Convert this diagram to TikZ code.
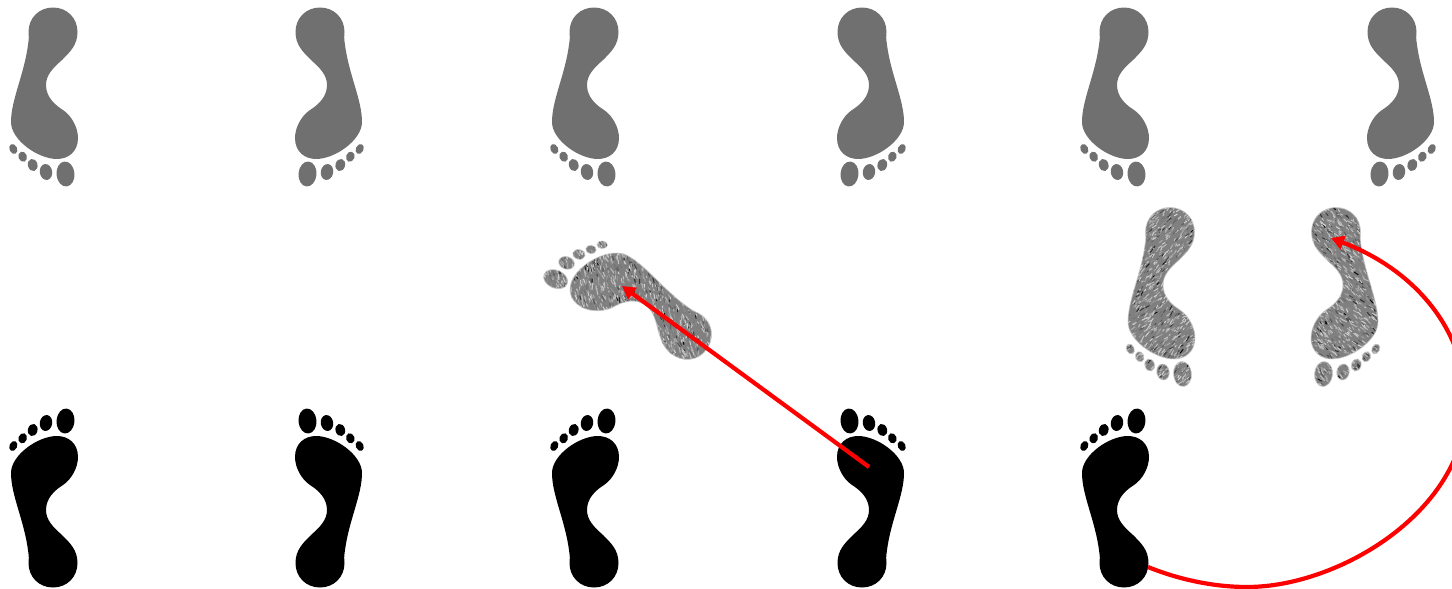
\documentclass[tikz,border=0pt]{standalone}
\usetikzlibrary{arrows.meta}
\definecolor{footgray}{HTML}{707070}
\definecolor{arrowred}{HTML}{FF0000}
\newcommand{\footshape}{%
  (53,7.5) .. controls (67,7.5) and (77.5,18) .. (77.5,32)
  .. controls (77.5,45) and (70,52) .. (62,60)
  .. controls (53,68) and (46,75) .. (46,85)
  .. controls (46,97) and (55,105) .. (63,110)
  .. controls (72,116) and (78,128) .. (78,138)
  .. controls (78,152) and (68,159) .. (57,159)
  .. controls (38,159) and (11,140) .. (11,122)
  .. controls (11,100) and (24,75) .. (28,45)
  .. controls (29,38) and (29,36) .. (28.5,32)
  .. controls (28.5,18) and (39,7.5) .. (53,7.5) -- cycle
  (13.3,149) ellipse[x radius=3.8,y radius=5.2,rotate=-25]
  (22.7,156.7) ellipse[x radius=4.2,y radius=5.2,rotate=-20]
  (32.7,165) ellipse[x radius=4.8,y radius=6.2,rotate=-15]
  (46,172) ellipse[x radius=6.2,y radius=8,rotate=-10]
  (65.5,174) ellipse[x radius=9,y radius=12.5,rotate=-5]}
\newcommand{\inkfoot}{%
  \begin{scope}
    \clip \footshape;
    \fill[black!50] (0,0) rectangle (90,195);
    \foreach \i in {1,...,1500}{
      \pgfmathsetmacro{\px}{6+rnd*78}
      \pgfmathsetmacro{\py}{4+rnd*190}
      \pgfmathsetmacro{\pa}{115+rnd*40}
      \pgfmathsetmacro{\pl}{1.5+rnd*3.5}
      \pgfmathtruncatemacro{\pc}{15+rnd*rnd*85+rnd*10}
      \draw[line width=1pt,line cap=round,color=black!\pc] (\px,\py) -- ++(\pa:\pl);
    }
  \end{scope}
  \draw[draw=black!20,line width=0.9pt,opacity=0.65] \footshape;}
\tikzset{
  plainfoot/.style={fill=#1,draw=none},
  redline/.style={draw=arrowred,line width=4.2pt,-{Triangle[length=13pt,width=14pt]}}
}
\begin{document}
\begin{tikzpicture}[x=1pt,y=1pt,yscale=-1]
\useasboundingbox (0,0) rectangle (1452,589);
\pgfmathsetseed{4711}
% grey row
\foreach \dx in {0,541,1071}{
  \fill[plainfoot=footgray,shift={(\dx,0)}] \footshape;
}
\foreach \dx in {373,915,1445}{
  \fill[plainfoot=footgray,shift={(\dx,0)},xscale=-1] \footshape;
}
% black row
\foreach \dx in {0,541,1071}{
  \fill[plainfoot=black,shift={(\dx,595)},yscale=-1] \footshape;
}
\foreach \dx in {373,915}{
  \fill[plainfoot=black,shift={(\dx,595)},xscale=-1,yscale=-1] \footshape;
}
% textured prints
\begin{scope}[shift={(740,303)},rotate=118] \inkfoot \end{scope}
\begin{scope}[shift={(1117,200)}] \inkfoot \end{scope}
\begin{scope}[shift={(1389,200)},xscale=-1] \inkfoot \end{scope}
% connectors
\coordinate (stepA) at (869,467);
\coordinate (printA) at (622,286);
\coordinate (stepB) at (1148,567);
\coordinate (printB) at (1331,238);
\draw[redline] (stepA) -- (printA);
\draw[redline] (stepB) .. controls (1180,580) and (1215,587) .. (1247,587)
  .. controls (1340,587) and (1466,510) .. (1466,405)
  .. controls (1466,330) and (1415,270) .. (printB);
\end{tikzpicture}
\end{document}
